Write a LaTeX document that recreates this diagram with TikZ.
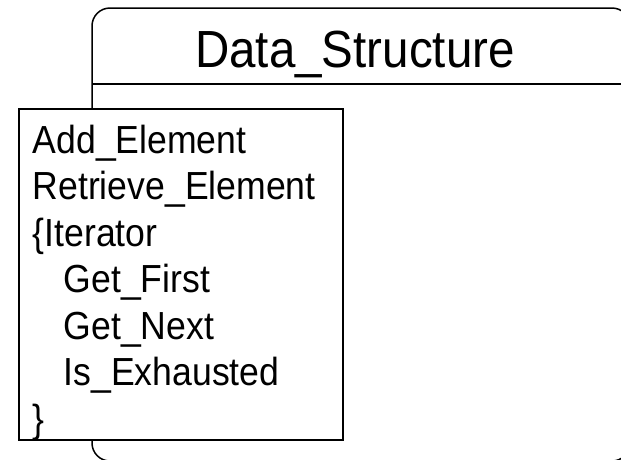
\documentclass[tikz,border=0pt]{standalone}
\usepackage{graphicx}
\usepackage{fontspec}
\setmainfont{Liberation Sans}
\newcommand{\tallText}[1]{\scalebox{1}[1.1]{#1}}
\begin{document}
\begin{tikzpicture}[x=1pt, y=-1pt, line width=1.5pt]
	\tikzset{
	    frame/.style= {draw, rounded corners=18pt},
	    opbox/.style= {draw, fill=white, rectangle, anchor=north west, inner sep=0pt, minimum width=324pt, minimum height=331pt},
	    title/.style= {font=\fontsize{47.5}{56}\selectfont, anchor=base, inner sep=0pt},
	    op/.style= {font=\fontsize{35.6}{42}\selectfont, anchor=base west, inner sep=0pt},
	}
	
	\useasboundingbox (0,0) rectangle (621,459);
	\clip (0,0) rectangle (621,459);
	
	\draw[frame] (92,8) rectangle (630,461);
	\coordinate (hl) at (92,84);
	\coordinate (hr) at (630,84);
	\draw (hl) -- (hr);
	\node[title] (name) at (355,67) {\tallText{Data\_Structure}};
	
	\node[opbox] (ops) at (18,108) {};
	\node[op] (add) at (32,153) {\tallText{Add\_Element}};
	\node[op] (ret) at (32,199.5) {\tallText{Retrieve\_Element}};
	\node[op] (iter) at (32,246) {\tallText{\{Iterator}};
	\node[op] (first) at (63,292.5) {\tallText{Get\_First}};
	\node[op] (next) at (63,339) {\tallText{Get\_Next}};
	\node[op] (exh) at (63,385.5) {\tallText{Is\_Exhausted}};
	\node[op] (close) at (32,432) {\tallText{\}}};
\end{tikzpicture}
\end{document}
